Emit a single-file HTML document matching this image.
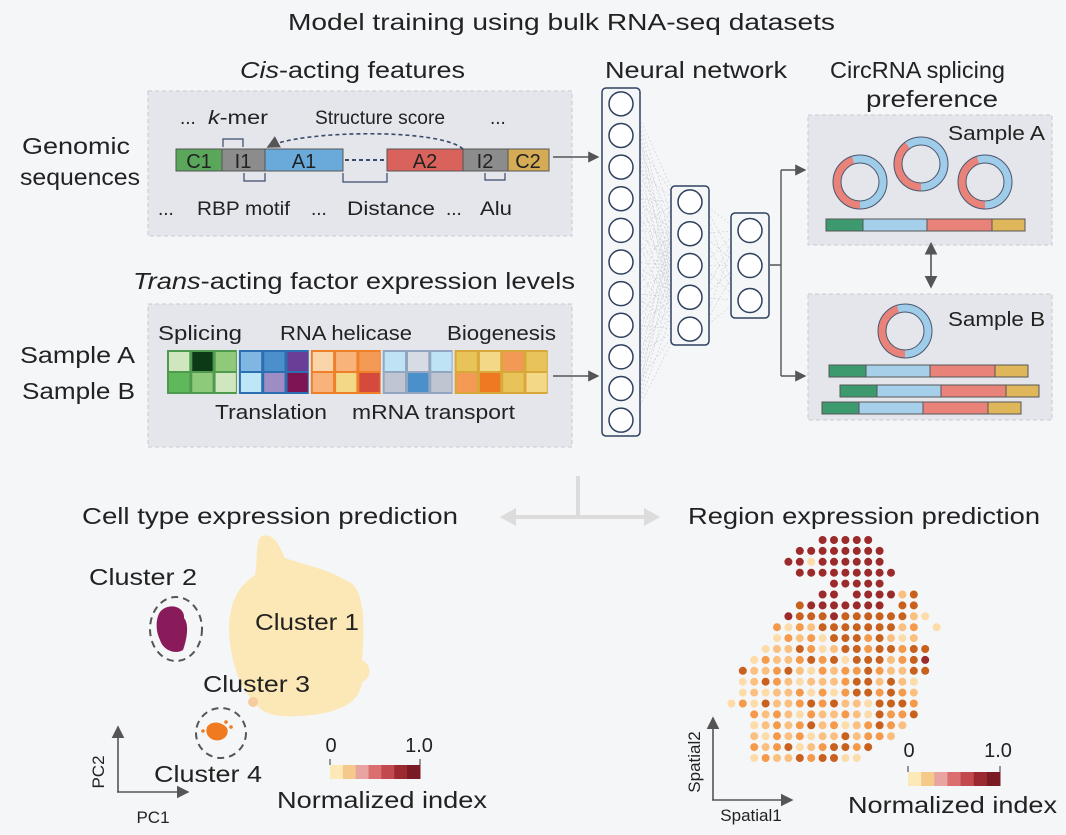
<!DOCTYPE html>
<html><head><meta charset="utf-8"><style>
html,body{margin:0;padding:0;background:#f5f6f8}
svg{display:block}
text{font-family:"Liberation Sans",sans-serif;fill:#222}
</style></head><body>
<svg width="1066" height="835" viewBox="0 0 1066 835">
<defs>
<marker id="ah" markerWidth="8" markerHeight="8" refX="7" refY="4" orient="auto"><path d="M0,0 L8,4 L0,8 Z" fill="#555"/></marker>
<marker id="ahs" markerWidth="8" markerHeight="8" refX="1" refY="4" orient="auto-start-reverse"><path d="M0,0 L8,4 L0,8 Z" fill="#555"/></marker>
</defs>
<rect width="1066" height="835" fill="#f5f6f8"/>
<text x="288" y="30" font-size="23" textLength="547" lengthAdjust="spacingAndGlyphs">Model training using bulk RNA-seq datasets</text>
<text x="240" y="78" font-size="23" textLength="225" lengthAdjust="spacingAndGlyphs"><tspan font-style="italic">Cis</tspan>-acting features</text>
<text x="605" y="78" font-size="23" textLength="182" lengthAdjust="spacingAndGlyphs">Neural network</text>
<text x="830" y="78" font-size="23" textLength="175" lengthAdjust="spacingAndGlyphs">CircRNA splicing</text>
<text x="866" y="107" font-size="23" textLength="132" lengthAdjust="spacingAndGlyphs">preference</text>

<!-- cis box -->
<rect x="148" y="91" width="424" height="145" fill="#e4e6eb" stroke="#c8cbd0" stroke-dasharray="4 3"/>
<text x="22" y="154" font-size="23" textLength="108" lengthAdjust="spacingAndGlyphs">Genomic</text>
<text x="20" y="185" font-size="23" textLength="120" lengthAdjust="spacingAndGlyphs">sequences</text>
<text x="180" y="124" font-size="19">...</text>
<text x="208" y="124" font-size="19" textLength="60" lengthAdjust="spacingAndGlyphs"><tspan font-style="italic">k</tspan>-mer</text>
<text x="315" y="124" font-size="19" textLength="130" lengthAdjust="spacingAndGlyphs">Structure score</text>
<text x="490" y="124" font-size="19">...</text>
<text x="158" y="215" font-size="19">...</text>
<text x="197" y="215" font-size="19" textLength="93" lengthAdjust="spacingAndGlyphs">RBP motif</text>
<text x="311" y="215" font-size="19">...</text>
<text x="347" y="215" font-size="19" textLength="88" lengthAdjust="spacingAndGlyphs">Distance</text>
<text x="446" y="215" font-size="19">...</text>
<text x="480" y="215" font-size="19" textLength="32" lengthAdjust="spacingAndGlyphs">Alu</text>
<g stroke="#555" stroke-width="1">
<rect x="176" y="149" width="46" height="22" fill="#5aa65a"/>
<rect x="222" y="149" width="43" height="22" fill="#8c8c8c"/>
<rect x="265" y="149" width="78" height="22" fill="#6aaadb"/>
<rect x="387" y="149" width="76" height="22" fill="#d9635c"/>
<rect x="463" y="149" width="45" height="22" fill="#8c8c8c"/>
<rect x="508" y="149" width="41" height="22" fill="#d5ab55"/>
</g>
<line x1="345" y1="160" x2="385" y2="160" stroke="#3a4a6a" stroke-width="2" stroke-dasharray="4 3"/>
<path d="M463,149 C440,128 300,130 268,147" fill="none" stroke="#3a4a6a" stroke-width="1.6" stroke-dasharray="4 3" marker-end="url(#ah)"/>
<text x="199" y="168" font-size="20" text-anchor="middle">C1</text>
<text x="243" y="168" font-size="20" text-anchor="middle">I1</text>
<text x="304" y="168" font-size="20" text-anchor="middle">A1</text>
<text x="425" y="168" font-size="20" text-anchor="middle">A2</text>
<text x="485" y="168" font-size="20" text-anchor="middle">I2</text>
<text x="528" y="168" font-size="20" text-anchor="middle">C2</text>
<path d="M223,147 v-8 h20 v8 M244,173 v8 h21 v-8 M343,173 v9 h44 v-9 M485,173 v7 h20 v-7" fill="none" stroke="#3a4a6a" stroke-width="1.2"/>

<!-- trans box -->
<text x="133" y="289" font-size="23" textLength="442" lengthAdjust="spacingAndGlyphs"><tspan font-style="italic">Trans</tspan>-acting factor expression levels</text>
<rect x="148" y="304" width="424" height="143" fill="#e4e6eb" stroke="#c8cbd0" stroke-dasharray="4 3"/>
<text x="20" y="363" font-size="23" textLength="115" lengthAdjust="spacingAndGlyphs">Sample A</text>
<text x="22" y="399" font-size="23" textLength="113" lengthAdjust="spacingAndGlyphs">Sample B</text>
<text x="158" y="340" font-size="20" textLength="84" lengthAdjust="spacingAndGlyphs">Splicing</text>
<text x="280" y="340" font-size="20" textLength="132" lengthAdjust="spacingAndGlyphs">RNA helicase</text>
<text x="447" y="340" font-size="20" textLength="109" lengthAdjust="spacingAndGlyphs">Biogenesis</text>
<text x="215" y="419" font-size="20" textLength="112" lengthAdjust="spacingAndGlyphs">Translation</text>
<text x="352" y="419" font-size="20" textLength="163" lengthAdjust="spacingAndGlyphs">mRNA transport</text>
<g id="heat"></g>

<!-- arrows to NN -->
<line x1="553" y1="157" x2="598" y2="157" stroke="#555" stroke-width="1.4" marker-end="url(#ah)"/>
<line x1="553" y1="376" x2="598" y2="376" stroke="#555" stroke-width="1.4" marker-end="url(#ah)"/>

<!-- NN -->
<g id="nn"></g>

<!-- connector to panels -->
<path d="M770,265 H781 M781,170 V376" fill="none" stroke="#555" stroke-width="1.4"/>
<line x1="781" y1="170" x2="805" y2="170" stroke="#555" stroke-width="1.4" marker-end="url(#ah)"/>
<line x1="781" y1="376" x2="805" y2="376" stroke="#555" stroke-width="1.4" marker-end="url(#ah)"/>

<rect x="808" y="115" width="244" height="130" fill="#e4e6eb" stroke="#c8cbd0" stroke-dasharray="4 3"/>
<text x="948" y="140" font-size="20" textLength="97" lengthAdjust="spacingAndGlyphs">Sample A</text>
<rect x="808" y="294" width="244" height="126" fill="#e4e6eb" stroke="#c8cbd0" stroke-dasharray="4 3"/>
<text x="948" y="326" font-size="20" textLength="97" lengthAdjust="spacingAndGlyphs">Sample B</text>
<line x1="931" y1="253" x2="931" y2="287" stroke="#555" stroke-width="1.6" marker-start="url(#ahs)" marker-end="url(#ah)"/>
<g id="circs"></g>

<!-- bottom connector -->
<path d="M578,476 V517 M510,517 H650" fill="none" stroke="#dcdcdc" stroke-width="4"/>
<path d="M500,517 l16,-9 v18 Z M660,517 l-16,-9 v18 Z" fill="#dcdcdc"/>

<text x="82" y="524" font-size="23" textLength="376" lengthAdjust="spacingAndGlyphs">Cell type expression prediction</text>
<text x="688" y="524" font-size="23" textLength="352" lengthAdjust="spacingAndGlyphs">Region expression prediction</text>

<!-- UMAP -->
<g>
<path d="M262,536 C275,532 280,548 285,558 C305,565 330,570 345,580 C362,585 366,610 362,660 C372,665 372,678 362,682 C360,702 340,714 300,716 C272,718 260,712 255,702 C240,690 230,660 229,630 C229,600 240,585 255,575 C258,560 255,540 262,536 Z" fill="#fce8b6"/>
<circle cx="253" cy="702" r="5" fill="#f7cba0"/>
<path d="M160,612 C168,602 185,606 184,618 C190,625 186,642 183,650 C175,655 163,650 160,640 C155,630 156,618 160,612 Z" fill="#8a1b5a"/>
<ellipse cx="176" cy="629" rx="26" ry="32" fill="none" stroke="#555" stroke-width="2" stroke-dasharray="7 5"/>
<path d="M207,727 C212,720 222,722 227,728 C230,736 222,742 214,740 C208,738 205,733 207,727 Z" fill="#f07a20"/>
<circle cx="226" cy="722" r="1.8" fill="#f07a20"/><circle cx="231" cy="727" r="1.8" fill="#f07a20"/><circle cx="203" cy="731" r="1.8" fill="#f07a20"/>
<circle cx="221" cy="733" r="25" fill="none" stroke="#555" stroke-width="2" stroke-dasharray="7 5"/>
<text x="89" y="585" font-size="23" textLength="108" lengthAdjust="spacingAndGlyphs">Cluster 2</text>
<text x="255" y="630" font-size="23" textLength="104" lengthAdjust="spacingAndGlyphs">Cluster 1</text>
<text x="203" y="692" font-size="23" textLength="107" lengthAdjust="spacingAndGlyphs">Cluster 3</text>
<text x="154" y="782" font-size="23" textLength="108" lengthAdjust="spacingAndGlyphs">Cluster 4</text>
<line x1="118" y1="792" x2="118" y2="727" stroke="#555" stroke-width="1.6" marker-end="url(#ah)"/>
<line x1="117" y1="792" x2="188" y2="792" stroke="#555" stroke-width="1.6" marker-end="url(#ah)"/>
<text x="104" y="772" font-size="17" text-anchor="middle" transform="rotate(-90 104 772)">PC2</text>
<text x="153" y="823" font-size="17" text-anchor="middle">PC1</text>
</g>
<g id="cb1"></g>
<text x="331" y="752" font-size="20" text-anchor="middle">0</text>
<text x="419" y="752" font-size="20" text-anchor="middle">1.0</text>
<text x="277" y="808" font-size="23" textLength="210" lengthAdjust="spacingAndGlyphs">Normalized index</text>

<!-- spatial -->
<g id="spatial"></g>
<line x1="713" y1="800" x2="713" y2="718" stroke="#555" stroke-width="1.6" marker-end="url(#ah)"/>
<line x1="712" y1="800" x2="792" y2="800" stroke="#555" stroke-width="1.6" marker-end="url(#ah)"/>
<text x="700" y="762" font-size="17" text-anchor="middle" transform="rotate(-90 700 762)">Spatial2</text>
<text x="751" y="821" font-size="17" text-anchor="middle">Spatial1</text>
<g id="cb2"></g>
<text x="909" y="757" font-size="20" text-anchor="middle">0</text>
<text x="998" y="757" font-size="20" text-anchor="middle">1.0</text>
<text x="848" y="813" font-size="23" textLength="209" lengthAdjust="spacingAndGlyphs">Normalized index</text>
</svg>
<script>
const NS="http://www.w3.org/2000/svg";
function mk(tag,attrs,parent){const e=document.createElementNS(NS,tag);for(const k in attrs)e.setAttribute(k,attrs[k]);parent.appendChild(e);return e;}

// heatmap data
const heatGroups=["splicing","helicase","transport-a","transport-b","biogenesis"];
const heatBorders=["#4f9a4f","#2c6fb0","#ef7f28","#93a6c0","#d9a83a"];
const heatRowA=[["#cfe6bf","#0d3a16","#8fc97a"],["#7fb7e2","#4b8fcb","#6a3d96"],["#fbd5aa","#f8b37a","#f39a55"],["#bde3f5","#d6dbe4","#bde3f5"],["#e7c35a","#f2d887","#f29a55","#e7c35a"]];
const heatRowB=[["#5fb85a","#8fc97a","#cfe6bf"],["#bde6f7","#9e8cc4","#7e1552"],["#f8b37a","#f2d887","#d44a3c"],["#bfc6d2","#4b8fcb","#bfc6d2"],["#f39a55","#ef7822","#e7c35a","#f2d887"]];
const heat=document.getElementById('heat');
let hx=167;const cw=23.3,ch=22,hy=350;
heatRowA.forEach((g,gi)=>{
  const w=g.length*cw;
  const r=mk('rect',{x:hx,y:hy,width:w,height:ch*2,fill:heatBorders[gi]},heat);
  
  
  g.forEach((c,i)=>{
    const a=mk('rect',{x:hx+i*cw+2,y:hy+2,width:cw-3,height:ch-3,fill:c},heat);
    
    
    const b=mk('rect',{x:hx+i*cw+2,y:hy+ch+1,width:cw-3,height:ch-3,fill:heatRowB[gi][i]},heat);
    
    
  });
  hx+=w+2;
});

// neural network
const nnLayers=[11,5,3];
const nnX=[621,690,750],nnTop=[88,186,213],nnBot=[436,345,318];
const nn=document.getElementById('nn');
const pts=nnLayers.map((n,li)=>{const h=nnBot[li]-nnTop[li];const s=h/n;return Array.from({length:n},(_,i)=>[nnX[li],nnTop[li]+s*(i+0.5)]);});
for(let l=0;l<2;l++)pts[l].forEach(a=>pts[l+1].forEach(b=>{mk('line',{x1:a[0]+12,y1:a[1],x2:b[0]-12,y2:b[1],stroke:'#c9ccd2','stroke-width':0.6,'stroke-dasharray':'2 2'},nn);}));
nnLayers.forEach((n,li)=>{
  const r=mk('rect',{x:nnX[li]-19,y:nnTop[li],width:38,height:nnBot[li]-nnTop[li],rx:4,fill:'#f5f6f8',stroke:'#2f4160','stroke-width':1.5},nn);
  
  
  pts[li].forEach(p=>{const c=mk('circle',{cx:p[0],cy:p[1],r:12,fill:'#fff',stroke:'#2f4160','stroke-width':1.5},nn);
    
    });
});

// circRNA panels
const circs=document.getElementById('circs');
function donut(cx,cy,frac){
  const r=23;
  mk('circle',{cx,cy,r,fill:'none',stroke:'#9fcce8','stroke-width':8},circs);
  const C=2*Math.PI*r;
  mk('circle',{cx,cy,r,fill:'none',stroke:'#e9837a','stroke-width':8,'stroke-dasharray':(C*frac)+' '+C,transform:`rotate(${90} ${cx} ${cy})`},circs);
  mk('circle',{cx,cy,r:r+4,fill:'none',stroke:'#4a5670','stroke-width':1},circs);
  mk('circle',{cx,cy,r:r-4,fill:'none',stroke:'#4a5670','stroke-width':1},circs);
}
const donutA=[[860,182,0.45],[921,164,0.4],[985,182,0.45]];
donutA.forEach(d=>donut(d[0],d[1],d[2]));
donut(905,331,0.45);
const segW=[37,64,65,33],segC=['#3d9a6e','#a6d0ea','#e9837a','#e0b65a'];
function bar(x,y){segW.reduce((xx,w,i)=>{mk('rect',{x:xx,y,width:w,height:12,fill:segC[i],stroke:'#555','stroke-width':1},circs);return xx+w;},x);}
bar(826,219);bar(829,365);bar(840,385);bar(822,402);

// colorbars
const cbColors=['#fde8b8','#f4c98a','#e9a3a0','#db6f70','#c24a4e','#9b2a30','#7a1a22'];
function cbar(id,x,y,w,h){const g=document.getElementById(id);const s=w/cbColors.length;cbColors.forEach((c,i)=>mk('rect',{x:x+i*s,y,width:s+0.5,height:h,fill:c},g));
  mk('line',{x1:x,y1:y-6,x2:x,y2:y,stroke:'#333'},g);mk('line',{x1:x+w,y1:y-6,x2:x+w,y2:y,stroke:'#333'},g);}
cbar('cb1',330,765,90,14);
cbar('cb2',908,772,92,14);

// spatial dots: row strings; digit = level, space = none
const spotRows=[
"         55555",
"       55555555",
"      551555555",
"       555555555",
"          55555",
"         55 555524",
"       45555555 44",
"      5444544444421",
"     3132444444423 1",
"     1323144434212",
"    122431244344344",
"   1322343414442345",
"  42234213233432244",
"  1243212223442421",
"  1212231313443432",
" 13142234342214443",
"   323213223214334",
"   12323423123432",
"   2132312242332",
"   32341234434",
"   1322434411"];
const spotColors=['','#fddcaa','#fbc07f','#f59a4a','#c8601e','#9b2a2a'];
const sp=document.getElementById('spatial');
spotRows.forEach((row,ri)=>{for(let c=0;c<row.length;c++){const v=row[c];if(v===' ')continue;
  const d=mk('circle',{cx:720+c*11.4,cy:540+ri*10.9,r:4,fill:spotColors[+v]},sp);
  
  }});
</script>
</body></html>
